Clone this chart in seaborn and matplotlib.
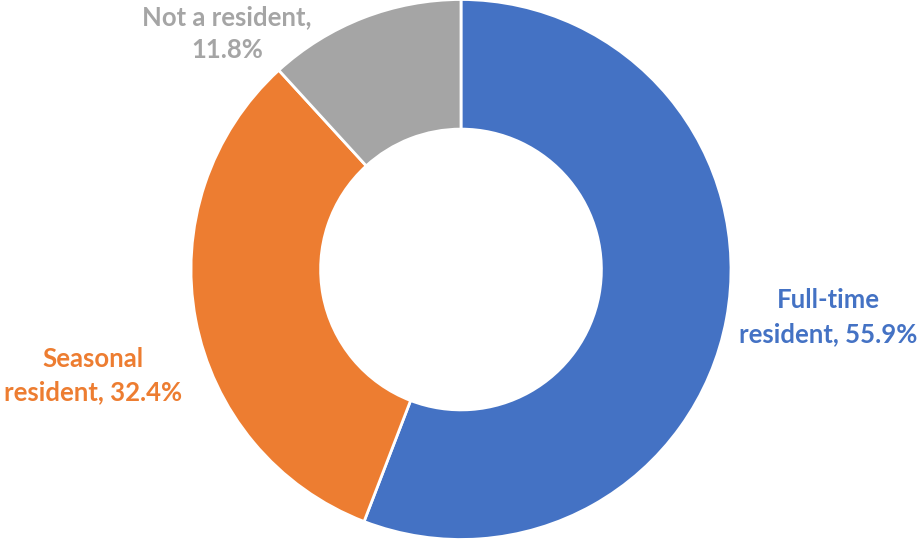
import matplotlib
matplotlib.use("Agg")
import matplotlib.pyplot as plt
import seaborn as sns

# --- データ ---
categories = ["Full-time resident", "Seasonal resident", "Not a resident"]
shares = [55.9, 32.4, 11.8]
label_lines = [["Full-time", "resident, 55.9%"],
               ["Seasonal", "resident, 32.4%"],
               ["Not a resident,", "11.8%"]]

sns.set_theme(style="white")
plt.rcParams['font.family'] = ['Lato', 'DejaVu Sans']

colors = ["#4472C4", "#ED7D31", "#A5A5A5"]

fig = plt.figure(figsize=(9.2, 5.39), dpi=100)
ax = fig.add_axes([0, 0, 1, 1])

# ドーナツグラフ (12時の位置から時計回り)
ax.pie(shares, colors=colors, startangle=90, counterclock=False,
       radius=1.0, wedgeprops=dict(width=0.48, edgecolor="white", linewidth=2))

# 1単位 = 270px になるように範囲を設定
px = 270.0
cx, cy = 461.0, 269.5
ax.set_xlim(-cx / px, (920 - cx) / px)
ax.set_ylim(-(539 - cy) / px, cy / px)
ax.set_aspect("equal")
ax.axis("off")

# ラベル位置 (中心x, 各行のベースラインy, ピクセル座標)
label_pos = [(828, (308, 342)),
             (93, (367, 400)),
             (227, (25, 58))]
for lines, color, (x, ys) in zip(label_lines, colors, label_pos):
    for text, y in zip(lines, ys):
        ax.text((x - cx) / px, (cy - y) / px, text, color=color, fontsize=18.5,
                fontweight="bold", ha="center", va="baseline")

fig.savefig("out.png", dpi=100)
